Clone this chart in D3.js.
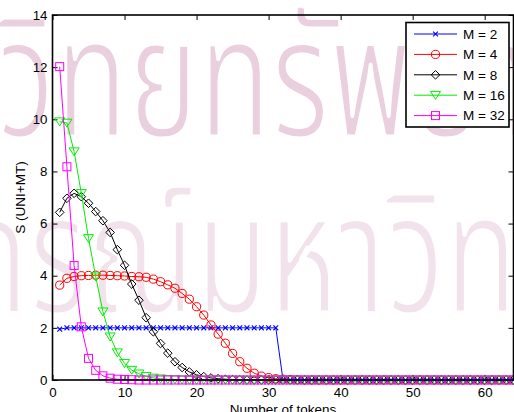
<!DOCTYPE html>
<html>
<head>
<meta charset="utf-8">
<script src="https://cdn.jsdelivr.net/npm/d3@7/dist/d3.min.js"></script>
<style>
  html, body { margin: 0; padding: 0; background: #fff; }
  svg { display: block; }
  text { font-family: "Liberation Sans", Arial, Helvetica, sans-serif; }
</style>
</head>
<body>
<svg id="chart" width="514" height="412"></svg>
<script>
// Number of tokens (x) for every series
const tokens = [
  1, 2, 3, 4, 5, 6, 7, 8, 9, 10, 11, 12, 13, 14, 15, 16,
  17, 18, 19, 20, 21, 22, 23, 24, 25, 26, 27, 28, 29, 30, 31, 32,
  33, 34, 35, 36, 37, 38, 39, 40, 41, 42, 43, 44, 45, 46, 47, 48,
  49, 50, 51, 52, 53, 54, 55, 56, 57, 58, 59, 60, 61, 62, 63, 64
];

// S (UNI+MT) for each number of tokens
const sM2 = [
  1.95, 2, 2, 2, 2, 2, 2, 2, 2, 2, 2, 2, 2, 2, 2, 2,
  2, 2, 2, 2, 2, 2, 2, 2, 2, 2, 2, 2, 2, 2, 2, 0,
  0, 0, 0, 0, 0, 0, 0, 0, 0, 0, 0, 0, 0, 0, 0, 0,
  0, 0, 0, 0, 0, 0, 0, 0, 0, 0, 0, 0, 0, 0, 0, 0
];
const sM4 = [
  3.64, 3.90, 3.97, 4.00, 4.01, 4.02, 4.02, 4.01, 4.00, 3.99, 3.97, 3.96, 3.94, 3.87, 3.77, 3.65,
  3.52, 3.32, 3.10, 2.81, 2.49, 2.11, 1.76, 1.41, 1.02, 0.70, 0.45, 0.26, 0.15, 0.09, 0.05, 0.03,
  0.02, 0.01, 0, 0, 0, 0, 0, 0, 0, 0, 0, 0, 0, 0, 0, 0,
  0, 0, 0, 0, 0, 0, 0, 0, 0, 0, 0, 0, 0, 0, 0, 0
];
const sM8 = [
  6.43, 6.97, 7.16, 7.03, 6.78, 6.46, 6.11, 5.66, 5.00, 4.40, 3.68, 3.06, 2.39, 1.85, 1.40, 1.03,
  0.70, 0.48, 0.31, 0.20, 0.13, 0.08, 0.05, 0.03, 0.02, 0.01, 0, 0, 0, 0, 0, 0,
  0, 0, 0, 0, 0, 0, 0, 0, 0, 0, 0, 0, 0, 0, 0, 0,
  0, 0, 0, 0, 0, 0, 0, 0, 0, 0, 0, 0, 0, 0, 0, 0
];
const sM16 = [
  9.91, 9.86, 8.76, 7.16, 5.43, 3.96, 2.62, 1.66, 1.05, 0.64, 0.38, 0.24, 0.14, 0.08, 0.05, 0.03,
  0.02, 0.01, 0, 0, 0, 0, 0, 0, 0, 0, 0, 0, 0, 0, 0, 0,
  0, 0, 0, 0, 0, 0, 0, 0, 0, 0, 0, 0, 0, 0, 0, 0,
  0, 0, 0, 0, 0, 0, 0, 0, 0, 0, 0, 0, 0, 0, 0, 0
];
const sM32 = [
  12.02, 8.18, 4.39, 2.04, 0.83, 0.37, 0.16, 0.07, 0.03, 0.02, 0.01, 0, 0, 0, 0, 0,
  0, 0, 0, 0, 0, 0, 0, 0, 0, 0, 0, 0, 0, 0, 0, 0,
  0, 0, 0, 0, 0, 0, 0, 0, 0, 0, 0, 0, 0, 0, 0, 0,
  0, 0, 0, 0, 0, 0, 0, 0, 0, 0, 0, 0, 0, 0, 0, 0
];

const seriesNames = ["M = 2", "M = 4", "M = 8", "M = 16", "M = 32"];
const seriesValues = [sM2, sM4, sM8, sM16, sM32];
const seriesColors = ["#0000ff", "#ff0000", "#000000", "#00ee00", "#ff00ff"];
const seriesMarkers = ["x", "circle", "diamond", "triangleDown", "square"];

const xTicks = [0, 10, 20, 30, 40, 50, 60];
const yTicks = [0, 2, 4, 6, 8, 10, 12, 14];
const xTitle = "Number of tokens";
const yTitle = "S (UNI+MT)";

// Background watermark lines
const watermark = ["ศูนย์วิทยทรัพยากร", "จุฬาลงกรณ์มหาวิทยาลัย"];

const svg = d3.select("#chart");
const plot = { left: 52.5, right: 513.5, top: 15, bottom: 380 };

const x = d3.scaleLinear().domain([0, 64]).range([plot.left, plot.right]);
const y = d3.scaleLinear().domain([0, 14]).range([plot.bottom, plot.top]);

// watermark: large, condensed, thin-stroked Thai text; each line is shifted so
// a chosen glyph starts at a given x
const wmFont = "'Noto Sans Thai', 'Noto Sans', 'DejaVu Sans', sans-serif";
const wmScaleX = 0.7;
const wmRows = [
  { text: watermark[0], baseline: 137, anchorChar: 5, anchorX: -3, fill: "#eacfdf" },
  { text: watermark[1], baseline: 313, anchorChar: 15, anchorX: 445, fill: "#f1e2eb" }
];
const wm = svg.append("g").attr("class", "watermark");
wmRows.forEach(r => {
  const g = wm.append("g");
  const t = g.append("text")
    .attr("x", 0).attr("y", 0)
    .attr("font-size", 170)
    .style("font-family", wmFont)
    .attr("fill", r.fill)
    .attr("stroke", "#fff")
    .attr("stroke-width", 5)
    .attr("stroke-linejoin", "round")
    .text(r.text);
  let p = 0;
  try { p = t.node().getStartPositionOfChar(r.anchorChar).x; } catch (e) { p = 0; }
  g.attr("transform", `translate(${r.anchorX - wmScaleX * p},${r.baseline}) scale(${wmScaleX},1)`);
});

// axes (MATLAB style: ticks point inward, box on all four sides)
const tickLen = 5;
const axisFont = 13.3;

const bottomAxis = d3.axisBottom(x).tickValues(xTicks).tickSizeInner(-tickLen).tickSizeOuter(0).tickPadding(10);
const topAxis = d3.axisTop(x).tickValues(xTicks).tickSizeInner(-tickLen).tickSizeOuter(0).tickFormat("");
const leftAxis = d3.axisLeft(y).tickValues(yTicks).tickSizeInner(-tickLen).tickSizeOuter(0).tickPadding(10);
const rightAxis = d3.axisRight(y).tickValues(yTicks).tickSizeInner(-tickLen).tickSizeOuter(0).tickFormat("");

function styleAxis(g) {
  g.select(".domain").remove();
  g.selectAll(".tick line").attr("stroke", "#000").attr("stroke-width", 1);
  g.selectAll(".tick text")
    .attr("fill", "#000")
    .attr("font-size", axisFont)
    .style("font-family", "'Liberation Sans', Arial, sans-serif");
}

svg.append("g").attr("transform", `translate(0,${plot.bottom})`).call(bottomAxis).call(styleAxis)
  .selectAll(".tick text").attr("dy", "0.71em").attr("y", 8);
svg.append("g").attr("transform", `translate(0,${plot.top})`).call(topAxis).call(styleAxis);
svg.append("g").attr("transform", `translate(${plot.left},0)`).call(leftAxis).call(styleAxis)
  .selectAll(".tick text").attr("x", -5);
svg.append("g").attr("transform", `translate(${plot.right},0)`).call(rightAxis).call(styleAxis);

// series
const symbolSize = { circle: 4.1, square: 4, diamond: 4.3, triangleDown: 5, x: 2.4 };

function drawMarker(g, kind, cx, cy, color) {
  const s = symbolSize[kind];
  if (kind === "circle") {
    g.append("circle").attr("cx", cx).attr("cy", cy).attr("r", s)
      .attr("fill", "none").attr("stroke", color).attr("stroke-width", 1);
  } else if (kind === "square") {
    g.append("rect").attr("x", cx - s).attr("y", cy - s).attr("width", 2 * s).attr("height", 2 * s)
      .attr("fill", "none").attr("stroke", color).attr("stroke-width", 1);
  } else if (kind === "diamond") {
    g.append("path").attr("d", `M${cx},${cy - s}L${cx + s},${cy}L${cx},${cy + s}L${cx - s},${cy}Z`)
      .attr("fill", "none").attr("stroke", color).attr("stroke-width", 1);
  } else if (kind === "triangleDown") {
    g.append("path").attr("d", `M${cx - s},${cy - s * 0.75}L${cx + s},${cy - s * 0.75}L${cx},${cy + s * 0.85}Z`)
      .attr("fill", "none").attr("stroke", color).attr("stroke-width", 1);
  } else if (kind === "x") {
    g.append("path").attr("d", `M${cx - s},${cy - s}L${cx + s},${cy + s}M${cx - s},${cy + s}L${cx + s},${cy - s}`)
      .attr("fill", "none").attr("stroke", color).attr("stroke-width", 1.1);
  }
}

const line = d3.line().x(d => x(d[0])).y(d => y(d[1]));
const plotArea = svg.append("g");

seriesValues.forEach((vals, i) => {
  const pts = tokens.map((t, k) => [t, vals[k]]);
  const g = plotArea.append("g");
  g.append("path").datum(pts).attr("d", line)
    .attr("fill", "none").attr("stroke", seriesColors[i]).attr("stroke-width", 1);
  pts.forEach(p => drawMarker(g, seriesMarkers[i], x(p[0]), y(p[1]), seriesColors[i]));
});

// box
svg.append("rect")
  .attr("x", plot.left).attr("y", plot.top)
  .attr("width", plot.right - plot.left).attr("height", plot.bottom - plot.top)
  .attr("fill", "none").attr("stroke", "#000").attr("stroke-width", 1.6);

// axis titles
svg.append("text")
  .attr("x", (plot.left + plot.right) / 2).attr("y", 413.5)
  .attr("text-anchor", "middle").attr("font-size", 13.5)
  .text(xTitle);
svg.append("text")
  .attr("transform", `translate(25,${(plot.top + plot.bottom) / 2}) rotate(-90)`)
  .attr("text-anchor", "middle").attr("font-size", 13.5)
  .text(yTitle);

// legend
const legend = svg.append("g");
const lg = { x0: 406, y0: 22.5, w: 103, h: 104.5 };
legend.append("rect").attr("x", lg.x0).attr("y", lg.y0).attr("width", lg.w).attr("height", lg.h)
  .attr("fill", "#fff").attr("stroke", "#000").attr("stroke-width", 1.6);
seriesNames.forEach((name, i) => {
  const cy = 34 + i * 20.4;
  legend.append("line").attr("x1", 414).attr("x2", 457).attr("y1", cy).attr("y2", cy)
    .attr("stroke", seriesColors[i]).attr("stroke-width", 1);
  drawMarker(legend, seriesMarkers[i], 435.5, cy, seriesColors[i]);
  legend.append("text").attr("x", 463).attr("y", cy + 4.8)
    .attr("font-size", 13.5).text(name);
});
</script>
</body>
</html>
